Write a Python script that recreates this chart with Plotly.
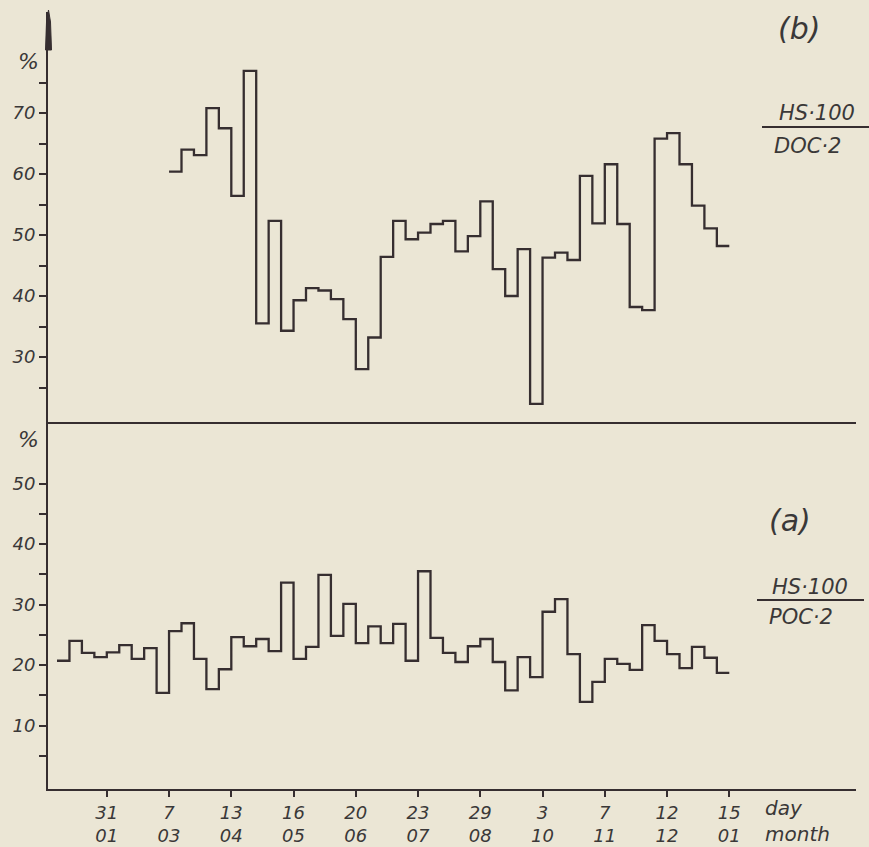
import plotly.graph_objects as go

# Weekly ratio series, one value per week (week 0 = early January)
ratio_a = [20.7, 24.0, 22.0, 21.3, 22.1, 23.3, 21.0, 22.8, 15.4, 25.6,
           26.9, 21.0, 16.0, 19.3, 24.6, 23.1, 24.3, 22.3, 33.6, 21.0,
           23.0, 34.9, 24.8, 30.1, 23.6, 26.4, 23.6, 26.8, 20.7, 35.5,
           24.5, 22.0, 20.5, 23.1, 24.3, 20.5, 15.8, 21.3, 18.0, 28.8,
           30.9, 21.8, 13.9, 17.2, 21.0, 20.2, 19.2, 26.6, 24.0, 21.8,
           19.5, 23.0, 21.2, 18.7]
start_a = 0

ratio_b = [60.4, 64.0, 63.1, 70.8, 67.5, 56.4, 76.9, 35.5, 52.3, 34.3,
           39.3, 41.3, 40.9, 39.5, 36.2, 28.0, 33.2, 46.4, 52.3, 49.3,
           50.4, 51.8, 52.3, 47.3, 49.8, 55.5, 44.4, 40.0, 47.7, 22.3,
           46.3, 47.1, 45.9, 59.7, 51.9, 61.6, 51.8, 38.2, 37.7, 65.8,
           66.7, 61.6, 54.8, 51.1, 48.2]
start_b = 9

# Date ticks along the time axis (every fifth week)
tick_days = ["31", "7", "13", "16", "20", "23", "29", "3", "7", "12", "15"]
tick_months = ["01", "03", "04", "05", "06", "07", "08", "10", "11", "12", "01"]
tick_weeks = [4 + 5 * i for i in range(len(tick_days))]

ticks_a = [10, 20, 30, 40, 50]
minor_a = [5, 15, 25, 35, 45]
ticks_b = [30, 40, 50, 60, 70]
minor_b = [25, 35, 45, 55, 65, 75]

W, H = 869, 847
BG = "#ebe6d5"
INK = "#362e30"
TXT = "#3a3838"
FAMILY = "DejaVu Sans, sans-serif"


def px(x):
    return x / W


def py(y):
    return 1 - y / H


def steps(start, vals):
    xs = [start + i for i in range(len(vals) + 1)]
    ys = list(vals) + [vals[-1]]
    return xs, ys


tick_font = dict(family=FAMILY, size=18, color=TXT, style="italic")

fig = go.Figure()

xa, ya = steps(start_a, ratio_a)
fig.add_trace(go.Scatter(x=xa, y=ya, mode="lines", line_shape="hv",
                         line=dict(color=INK, width=2.3),
                         xaxis="x", yaxis="y", showlegend=False,
                         hoverinfo="skip"))

xb, yb = steps(start_b, ratio_b)
fig.add_trace(go.Scatter(x=xb, y=yb, mode="lines", line_shape="hv",
                         line=dict(color=INK, width=2.3),
                         xaxis="x2", yaxis="y2", showlegend=False,
                         hoverinfo="skip"))

# pixels per week / per 10 % on each panel
wk = 12.45
x_left, x_right, x_w0 = 48, 856, 57
xrange = [(x_left - x_w0) / wk, (x_right - x_w0) / wk]

y_sep, y_base, y_top = 422, 789, 12
a_zero, a_per = 786, 6.05
b_twenty, b_per = 418, 6.1

common_x = dict(showgrid=False, zeroline=False, showline=True,
                linecolor=INK, linewidth=2, range=xrange,
                domain=[px(x_left), px(x_right)])

fig.update_layout(
    width=W, height=H,
    margin=dict(l=0, r=0, t=0, b=0, autoexpand=False),
    paper_bgcolor=BG, plot_bgcolor=BG,
    xaxis=dict(**common_x, anchor="y",
               tickmode="array", tickvals=tick_weeks,
               ticktext=[f"{d}<br>{m}" for d, m in zip(tick_days, tick_months)],
               ticks="outside", ticklen=6, tickwidth=1.5, tickcolor=INK,
               tickfont=tick_font),
    xaxis2=dict(**common_x, anchor="y2", matches="x",
                showticklabels=False, ticks=""),
    yaxis=dict(anchor="x", domain=[py(y_base), py(y_sep)],
               range=[(a_zero - y_base) / a_per, (a_zero - y_sep) / a_per],
               showgrid=False, zeroline=False, showline=True,
               linecolor=INK, linewidth=2,
               tickmode="array", tickvals=ticks_a,
               ticktext=[str(v) for v in ticks_a],
               ticks="outside", ticklen=7, tickwidth=1.5, tickcolor=INK,
               tickfont=tick_font,
               minor=dict(tickvals=minor_a, ticks="outside", ticklen=7,
                          tickwidth=1.5, tickcolor=INK)),
    yaxis2=dict(anchor="x2", domain=[py(y_sep), py(y_top)],
                range=[20 - (y_sep - b_twenty) / b_per,
                       20 + (b_twenty - y_top) / b_per],
                showgrid=False, zeroline=False, showline=True,
                linecolor=INK, linewidth=2,
                tickmode="array", tickvals=ticks_b,
                ticktext=[str(v) for v in ticks_b],
                ticks="outside", ticklen=7, tickwidth=1.5, tickcolor=INK,
                tickfont=tick_font,
                minor=dict(tickvals=minor_b, ticks="outside", ticklen=7,
                           tickwidth=1.5, tickcolor=INK)),
)

# arrow head on the vertical axis
fig.add_shape(type="path", xref="paper", yref="paper",
              path=(f"M {px(45.5)},{py(50)} L {px(46.5)},{py(22)} "
                    f"L {px(48.5)},{py(10)} L {px(50.5)},{py(22)} "
                    f"L {px(51.5)},{py(50)} Z"),
              fillcolor=INK, line=dict(color=INK, width=1))

# fraction bars of the ratio labels
fig.add_shape(type="line", xref="paper", yref="paper",
              x0=px(762), x1=px(869), y0=py(127), y1=py(127),
              line=dict(color=INK, width=2))
fig.add_shape(type="line", xref="paper", yref="paper",
              x0=px(757), x1=px(864), y0=py(600), y1=py(600),
              line=dict(color=INK, width=2))

lab_font = dict(family=FAMILY, size=21, color=TXT, style="italic")
big_font = dict(family=FAMILY, size=30, color=TXT, style="italic")
pct_font = dict(family=FAMILY, size=22, color=TXT, style="italic")
axis_note_font = dict(family=FAMILY, size=20, color=TXT, style="italic")


def note(text, x, y, font, xanchor="center"):
    fig.add_annotation(text=text, xref="paper", yref="paper",
                       x=px(x), y=py(y), xanchor=xanchor, yanchor="middle",
                       showarrow=False, font=font, align="left")


note("(b)", 799, 28, big_font)
note("(a)", 790, 520, big_font)
note("HS·100", 817, 113, lab_font)
note("DOC·2", 772, 146, lab_font, xanchor="left")
note("HS·100", 810, 587, lab_font)
note("POC·2", 767, 617, lab_font, xanchor="left")
note("%", 28, 62, pct_font)
note("%", 28, 440, pct_font)
note("day<br>month", 763, 821, axis_note_font, xanchor="left")

fig.write_html("out.html")
